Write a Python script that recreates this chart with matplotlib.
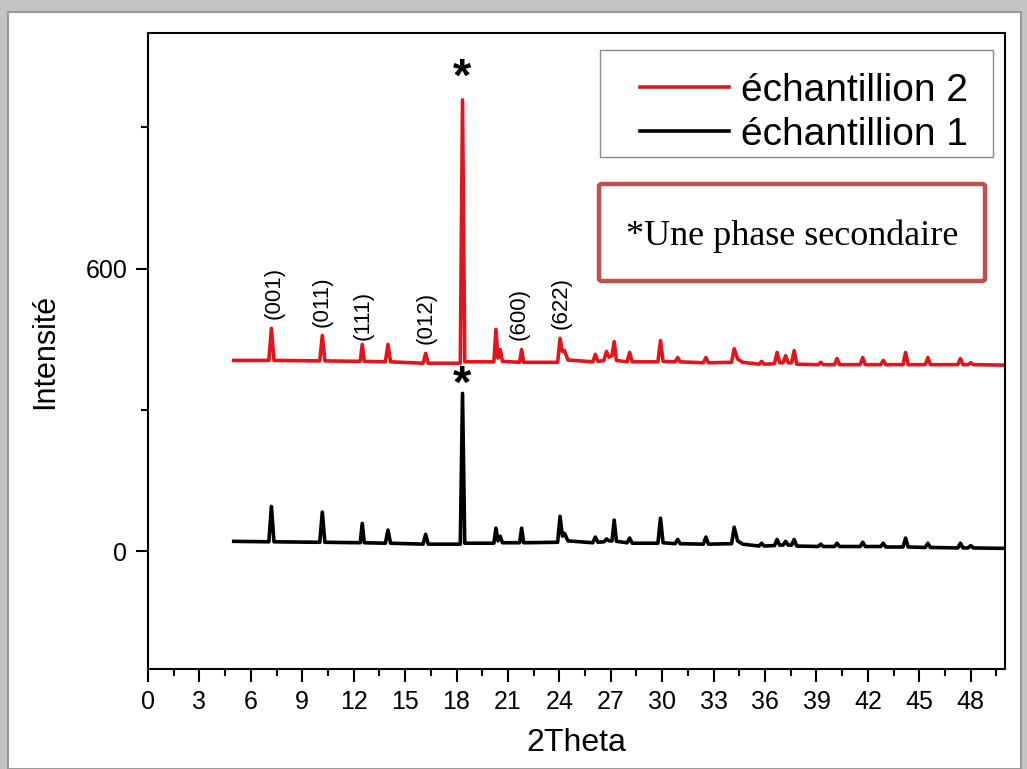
import matplotlib.pyplot as plt
from matplotlib.patches import Rectangle, FancyBboxPatch
from matplotlib.ticker import MultipleLocator

# 2theta grid (peak feet, peak tops, shoulders)
two_theta = [5.0, 7.05, 7.2, 7.35, 10.02, 10.17, 10.32, 12.38, 12.5, 12.62,
             13.85, 14.0, 14.15, 16.05, 16.2, 16.35, 18.22, 18.35, 18.48,
             20.18, 20.3, 20.42, 20.55, 20.68, 21.68, 21.8, 21.92,
             23.9, 24.04, 24.18, 24.3, 24.5, 25.95, 26.1, 26.25,
             26.6, 26.75, 26.9, 27.07, 27.2, 27.33, 27.95, 28.1, 28.25,
             29.75, 29.9, 30.05, 30.75, 30.9, 31.05, 32.4, 32.55, 32.7,
             34.05, 34.2, 34.4, 34.7, 35.65, 35.8, 35.95, 36.55, 36.7, 36.85,
             37.05, 37.2, 37.35, 37.55, 37.7, 37.85, 39.1, 39.25, 39.4,
             40.05, 40.2, 40.35, 41.55, 41.7, 41.85, 42.75, 42.9, 43.05,
             44.05, 44.2, 44.35, 45.35, 45.5, 45.65, 47.25, 47.4, 47.55,
             47.85, 48.0, 48.15, 50.0]

sample_1 = [21, 20, 95, 20, 19, 83, 19, 18, 59, 18,
            17, 45, 17, 15, 36, 15, 15, 335, 17,
            17, 49, 22, 32, 18, 18, 49, 18,
            19, 74, 32, 38, 22, 18, 30, 19,
            20, 26, 22, 22, 66, 21, 18, 28, 17,
            17, 70, 18, 16, 25, 16, 15, 30, 15,
            16, 51, 22, 15, 11, 17, 11, 12, 25, 13,
            13, 21, 13, 13, 25, 11, 10, 15, 10,
            10, 17, 10, 10, 19, 10, 10, 17, 9,
            9, 28, 9, 8, 17, 8, 7, 17, 7,
            7, 12, 7, 6]

sample_2 = [405, 405, 473, 405, 404, 458, 404, 403, 439, 403,
            402, 439, 402, 399, 420, 399, 399, 958, 402,
            402, 471, 410, 428, 403, 401, 428, 401,
            401, 452, 424, 426, 406, 402, 418, 403,
            405, 424, 412, 415, 445, 405, 402, 422, 402,
            402, 447, 403, 402, 411, 402, 400, 411, 400,
            401, 430, 408, 401, 397, 403, 397, 398, 422, 400,
            400, 415, 400, 400, 426, 397, 396, 401, 396,
            396, 409, 396, 396, 411, 396, 396, 405, 396,
            396, 422, 396, 396, 411, 396, 396, 409, 396,
            396, 400, 396, 395]

miller_labels = ['(001)', '(011)', '(111)', '(012)', '(600)', '(622)']
miller_x = [7.35, 10.17, 12.55, 16.2, 21.65, 24.1]
miller_y = [492, 477, 449, 439, 449, 471]

star_x = [18.35, 18.35]
star_y = [978, 326]

W, H = 1027, 769
red = '#e3141c'

plt.rcParams['font.family'] = ['Liberation Sans', 'DejaVu Sans']

fig = plt.figure(figsize=(W / 100, H / 100), dpi=100)
fig.patch.set_facecolor('#c4c4c4')
fig.patches.append(Rectangle((8 / W, 0), 1 - 14 / W, 1 - 12 / H,
                             transform=fig.transFigure, facecolor='white',
                             edgecolor='#9a9a9a', linewidth=1.5, zorder=-5))

ax = fig.add_axes([148 / W, 100 / H, 857 / W, 636 / H])
l1, = ax.plot(two_theta, sample_1, color='black', lw=2.6, label='échantillion 1')
l2, = ax.plot(two_theta, sample_2, color=red, lw=2.6, label='échantillion 2')

ax.set_xlim(0, 50)
ax.set_ylim(-250, 1100)
ax.xaxis.set_major_locator(MultipleLocator(3))
ax.xaxis.set_minor_locator(MultipleLocator(1.5))
ax.set_yticks([0, 600])
ax.set_yticks([300, 900], minor=True)
ax.tick_params(which='both', direction='out', width=1.5, color='black')
ax.tick_params(which='major', length=9)
ax.tick_params(which='minor', length=5)
ax.tick_params(axis='y', labelsize=18, pad=6)
ax.tick_params(axis='x', labelsize=18, pad=6)
for sp in ax.spines.values():
    sp.set_linewidth(1.5)

ax.set_xlabel('2Theta', fontsize=23, labelpad=10)
ax.set_ylabel('Intensité', fontsize=22, labelpad=18)

for lab, x, y in zip(miller_labels, miller_x, miller_y):
    ax.text(x, y, lab, rotation=90, ha='center', va='bottom', fontsize=16)

for x, y in zip(star_x, star_y):
    ax.text(x, y, '*', ha='center', va='baseline', fontsize=34,
            fontweight='bold', color='black')

# legend (frame drawn separately to match the original box)
ax.add_patch(Rectangle((600 / W, 1 - 157 / H), 393 / W, 107 / H,
                       transform=fig.transFigure, facecolor='white',
                       edgecolor='#8a8a8a', linewidth=1.0, zorder=3))
leg = ax.legend([l2, l1], ['échantillion 2', 'échantillion 1'],
                loc='upper left', bbox_to_anchor=(640 / W, 1 - 73 / H),
                bbox_transform=fig.transFigure, fontsize=28, frameon=False,
                handlelength=2.3, handletextpad=0.3, borderpad=0,
                borderaxespad=0, labelspacing=0.2)
leg.set_zorder(5)

# note box
ax.add_patch(FancyBboxPatch((599 / W, 1 - 281 / H), 386 / W, 97 / H,
                            boxstyle='round,pad=0,rounding_size=0.003',
                            transform=fig.transFigure, facecolor='white',
                            edgecolor='#c0504d', linewidth=3.2, zorder=3))
ax.text(792 / W, 1 - 236 / H, '*Une phase secondaire', ha='center',
        va='center', fontsize=26, family='Liberation Serif', zorder=6,
        transform=fig.transFigure)

fig.savefig('out.png', dpi=100, facecolor=fig.get_facecolor())
